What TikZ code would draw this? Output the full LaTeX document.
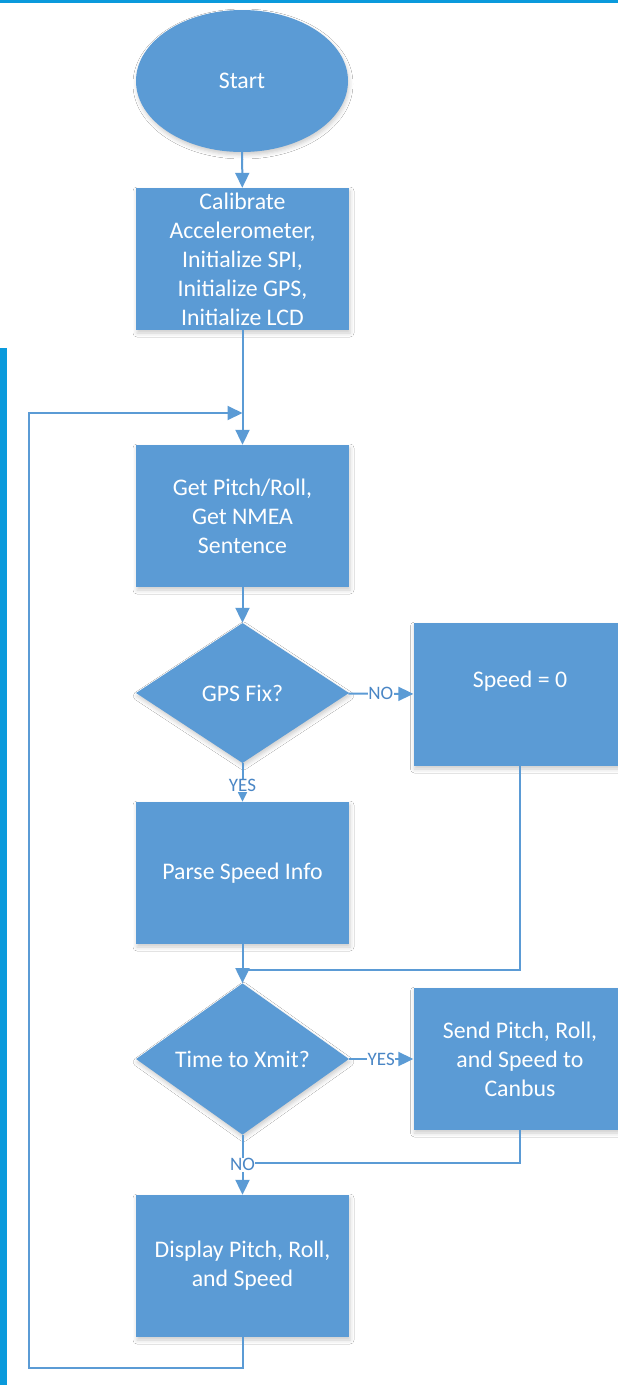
\documentclass[tikz,border=0pt]{standalone}
\usepackage{fontspec}
\setmainfont{Carlito}
\usetikzlibrary{shapes.geometric,arrows.meta,shadows.blur}

\definecolor{flowblue}{HTML}{5B9BD5}
\definecolor{pageblue}{HTML}{0A9ADC}
\definecolor{labelblue}{HTML}{4A86C5}

\begin{document}
\begin{tikzpicture}[x=1pt, y=-1pt,
    every node/.style={font=\fontsize{23.8}{29}\selectfont, text=white, align=center, inner sep=0pt},
    soft/.style={blur shadow={shadow xshift=1pt, shadow yshift=-3pt, shadow blur radius=4pt, shadow opacity=20}},
    block/.style={rectangle, fill=flowblue, minimum width=213pt, minimum height=142pt, soft},
    test/.style={diamond, fill=flowblue, minimum width=213pt, minimum height=140pt, soft},
    terminal/.style={ellipse, fill=flowblue, minimum width=212pt, minimum height=142pt, soft},
    flowline/.style={draw=flowblue, line width=2pt},
    arr/.style={flowline, -{Triangle[length=15pt, width=14pt]}},
    lbl/.style={font=\fontsize{19}{22}\selectfont, text=labelblue, fill=white, inner sep=0.5pt}]

    \clip (0,0) rectangle (618,1385);
    \fill[white] (0,0) rectangle (618,1385);

    % page edges
    \fill[pageblue] (0,0) rectangle (618,2.5);
    \fill[pageblue] (0,348) rectangle (7,1385);

    \node[terminal] (start) at (242,81) {Start};
    \node[block] (init) at (242.5,259) {Calibrate\\Accelerometer,\\Initialize SPI,\\Initialize GPS,\\Initialize LCD};
    \node[block] (read) at (242.5,516) {Get Pitch/Roll,\\Get NMEA\\Sentence};
    \node[test] (gpsfix) at (242.5,693) {GPS Fix?};
    \node[block, minimum height=143pt, text depth=31pt] (nofix) at (520,694.5) {Speed = 0};
    \node[block] (parse) at (242.5,873) {Parse Speed Info};
    \node[test] (xmit) at (242.5,1059) {Time to Xmit?};
    \node[block] (send) at (520,1059) {Send Pitch, Roll,\\and Speed to\\Canbus};
    \node[block] (display) at (242.5,1266) {Display Pitch, Roll,\\and Speed};

    \coordinate (loopin) at (242.5,413);
    \coordinate (loopcorner) at (29,1368);
    \coordinate (merge1) at (242.5,970);
    \coordinate (merge2) at (242.5,1163);

    \draw[arr] (start) -- (init);
    \draw[arr] (init) -- (read);
    \draw[arr] (read) -- (gpsfix);
    \draw[arr] (gpsfix) -- node[lbl] {NO} (nofix);
    \draw[arr] (gpsfix) -- node[lbl, pos=0.58] {YES} (parse);
    \draw[flowline] (nofix.south) |- (merge1);
    \draw[arr] (parse) -- (xmit);
    \draw[arr] (xmit) -- node[lbl] {YES} (send);
    \draw[flowline] (send.south) |- (merge2);
    \draw[arr] (xmit) -- node[lbl] {NO} (display);
    \draw[arr] (display.south) |- (loopcorner) |- (loopin);
\end{tikzpicture}
\end{document}
